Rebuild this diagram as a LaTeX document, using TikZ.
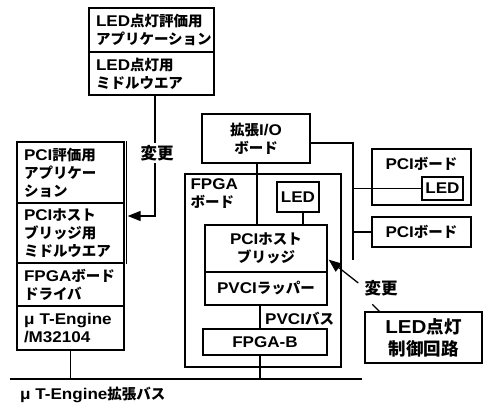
\documentclass[tikz,border=0pt]{standalone}
\usepackage{fontspec}
\setmainfont{Liberation Sans}[Scale=1.07, FakeStretch=1.1]
\newfontfamily\jp{Noto Sans CJK JP}
\usetikzlibrary{arrows.meta}

% switch to the Japanese font for kana and kanji
\XeTeXinterchartokenstate=1
\newXeTeXintercharclass\jpclass
\newcount\jpcode
\jpcode="3000 \loop\XeTeXcharclass\jpcode=\jpclass \ifnum\jpcode<"30FF \advance\jpcode 1 \repeat
\jpcode="4E00 \loop\XeTeXcharclass\jpcode=\jpclass \ifnum\jpcode<"9FFF \advance\jpcode 1 \repeat
\XeTeXinterchartoks 0 \jpclass = {\jp}
\XeTeXinterchartoks 4095 \jpclass = {\jp}
\XeTeXinterchartoks \jpclass 0 = {\rmfamily}

\tikzset{
  blk/.style={draw, line width=1.3pt, inner sep=0pt, font=\fontsize{14.5}{18}\selectfont\bfseries},
  lblk/.style={blk, align=left, inner xsep=7pt},
  cblk/.style={blk, align=center},
  wire/.style={line width=1.3pt},
  arr/.style={wire, -{Triangle[length=13pt,width=10pt]}},
  lbl/.style={inner sep=0pt, font=\fontsize{14.5}{18}\selectfont\bfseries},
  big/.style={font=\fontsize{16.5}{21}\selectfont\bfseries},
}

\begin{document}
\begin{tikzpicture}[x=1pt,y=-1pt]
\useasboundingbox (0,0) rectangle (483,404);

% host side
\node[lblk, text width=111pt, minimum height=44pt] (app) at (151.5,30) {LED点灯評価用\\アプリケーション};
\node[lblk, text width=111pt, minimum height=43pt] (mw) at (151.5,73.5) {LED点灯用\\ミドルウエア};

\node[lblk, text width=93pt, minimum height=61pt] (pciapp) at (70.5,172.5) {PCI評価用\\アプリケー\\ション};
\node[lblk, text width=93pt, minimum height=60pt] (pcimw) at (70.5,233) {PCIホスト\\ブリッジ用\\ミドルウエア};
\node[lblk, text width=93pt, minimum height=43pt] (drv) at (70.5,284.5) {FPGAボード\\ドライバ};
\node[lblk, text width=93pt, minimum height=44pt] (ute) at (70.5,328) {μ T-Engine\\/M32104};
\draw[wire] ([xshift=2pt]pciapp.north east) -- ([xshift=2pt]pcimw.south east);

\draw[arr] ([xshift=3.5pt]mw.south) |- ([xshift=3pt,yshift=17pt]pcimw.east);
\node[lbl, big, fill=white, inner sep=2pt] (chg1) at (157,153) {変更};

% board side
\node[cblk, minimum width=108pt, minimum height=49pt] (io) at (256,138.5) {拡張I/O\\ボード};
\node[blk, minimum width=156pt, minimum height=193pt] (fpga) at (263,270.5) {};
\node[lbl, anchor=north west, align=left] (fpgalbl) at ([xshift=6pt,yshift=-5pt]fpga.north west) {FPGA\\ボード};
\node[cblk, minimum width=42pt, minimum height=30pt] (led) at (298,197) {LED};
\node[cblk, minimum width=122pt, minimum height=47pt] (bridge) at (266,248.5) {PCIホスト\\ブリッジ};
\node[cblk, minimum width=122pt, minimum height=33pt] (wrap) at (266,288.5) {PVCIラッパー};
\node[cblk, minimum width=124pt, minimum height=26pt] (fpgab) at (265,342) {FPGA-B};
\node[lbl, anchor=west] (pvci) at (265,319) {PVCIバス};

\node[blk, minimum width=99pt, minimum height=56pt] (pcib) at (421.5,177) {};
\node[lbl] (pcibl) at (421.5,164) {PCIボード};
\node[cblk, minimum width=41pt, minimum height=23pt] (led2) at (442.5,188.5) {LED};
\node[cblk, minimum width=99pt, minimum height=30pt] (pcib2) at (421.5,232) {PCIボード};

\node[lbl, big] (chg2) at (381,288) {変更};
\node[cblk, minimum width=117pt, minimum height=51pt, font=\fontsize{17.5}{22}\selectfont\bfseries] (ctl) at (423.5,337.5) {LED点灯\\制御回路};

% bus
\coordinate (busl) at (10,379);
\coordinate (busr) at (362,379);
\coordinate (trunk) at (353,260);
\node[lbl, anchor=west] (buslbl) at (20,395) {μ T-Engine拡張バス};

\draw[wire] (busl) -- (busr);
\draw[wire] (ute.south) -- (ute.south |- busl);
\draw[wire] ([xshift=-5pt]fpgab.south) -- ([xshift=-5pt]fpgab.south |- busl);
\draw[wire] ([xshift=-6pt]wrap.south) -- ([xshift=-6pt]wrap.south |- fpgab.north);
\draw[wire] ([xshift=1pt]io.south) -- ([xshift=1pt]io.south |- bridge.north);
\draw[wire] ([xshift=5pt]led.south) -- ([xshift=5pt]led.south |- bridge.north);
\draw[wire] ([yshift=-4.5pt]io.east) -| (trunk);
\draw[wire] (led2.west -| trunk) -- (led2.west);
\draw[wire] (pcib2.west -| trunk) -- (pcib2.west);

\draw[arr] ([xshift=-6pt,yshift=5pt]chg2.west) -- ([xshift=1pt,yshift=13pt]bridge.south east);
\draw[wire] ([xshift=15pt]ctl.north west) -- ++(-7,-7);
\end{tikzpicture}
\end{document}
